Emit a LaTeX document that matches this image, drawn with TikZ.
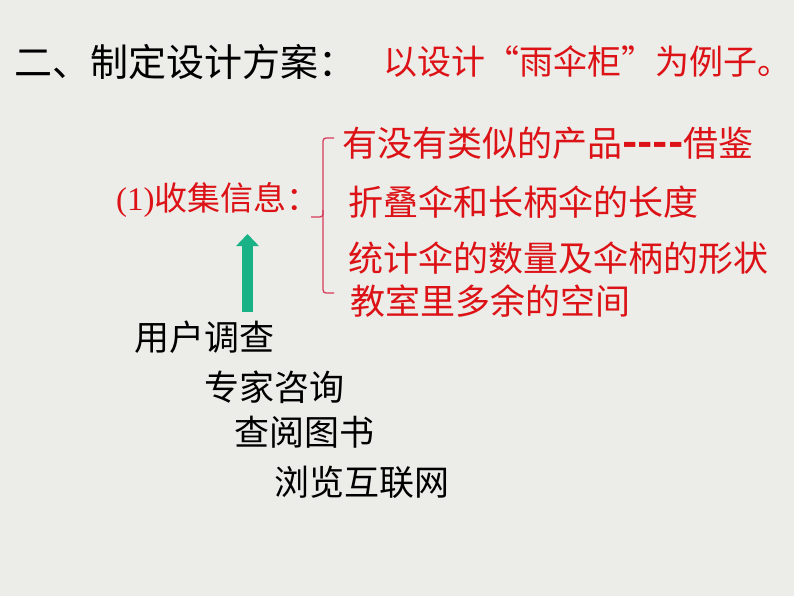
\documentclass[tikz,border=0pt]{standalone}
\usepackage{fontspec}
\newfontfamily\cjk{Noto Sans CJK SC}
\newfontfamily\serifnum{Liberation Serif}
\usetikzlibrary{arrows.meta}
\definecolor{bgc}{RGB}{236,236,232}
\definecolor{redtxt}{RGB}{220,18,22}
\definecolor{bracec}{RGB}{214,60,90}
\definecolor{arrowgreen}{RGB}{24,178,134}
\tikzset{
  txt/.style={anchor=west,inner sep=0pt,font=\cjk\fontsize{35}{40}\selectfont},
  blacktxt/.style={txt,text=black},
  redt/.style={txt,text=redtxt},
  bracestyle/.style={draw=bracec,line width=1.3pt,rounded corners=3pt},
  bigarrow/.style={draw=arrowgreen,line width=11pt,-{Triangle[width=22pt,length=12pt]}}
}
\begin{document}
\begin{tikzpicture}[x=1pt,y=-1pt]
\fill[bgc] (0,0) rectangle (794,596);
\useasboundingbox (0,0) rectangle (794,596);
% title
\node[blacktxt,font=\cjk\fontsize{38}{42}\selectfont] (t1) at (14,62) {二、制定设计方案：};
\node[redt,font=\cjk\fontsize{34}{40}\selectfont] (t2) at (383,62) {以设计“雨伞柜”为例子。};
% collect info
\node[redt,font=\cjk\fontsize{33}{38}\selectfont] (ci) at (116,200) {{\serifnum(1)}收集信息：};
% items
\node[redt] (i1) at (342,143) {有没有类似的产品{\fontsize{40}{40}\selectfont\bfseries ----}借鉴};
\node[redt] (i2) at (348,202) {折叠伞和长柄伞的长度};
\node[redt] (i3) at (348,258) {统计伞的数量及伞柄的形状};
\node[redt] (i4) at (350,301) {教室里多余的空间};
% brace
\draw[bracestyle] (334,138) -- (323,138) -- (323,217) -- (311,217);
\draw[bracestyle] (323,210) -- (323,293) -- (334,293);
% arrow
\coordinate (ab) at (247.5,312);
\coordinate (at) at (247.5,234);
\draw[bigarrow] (ab) -- (at);
% sources
\node[blacktxt] (s1) at (134,337) {用户调查};
\node[blacktxt] (s2) at (204,387) {专家咨询};
\node[blacktxt] (s3) at (234,432) {查阅图书};
\node[blacktxt] (s4) at (274,482) {浏览互联网};
\end{tikzpicture}
\end{document}
